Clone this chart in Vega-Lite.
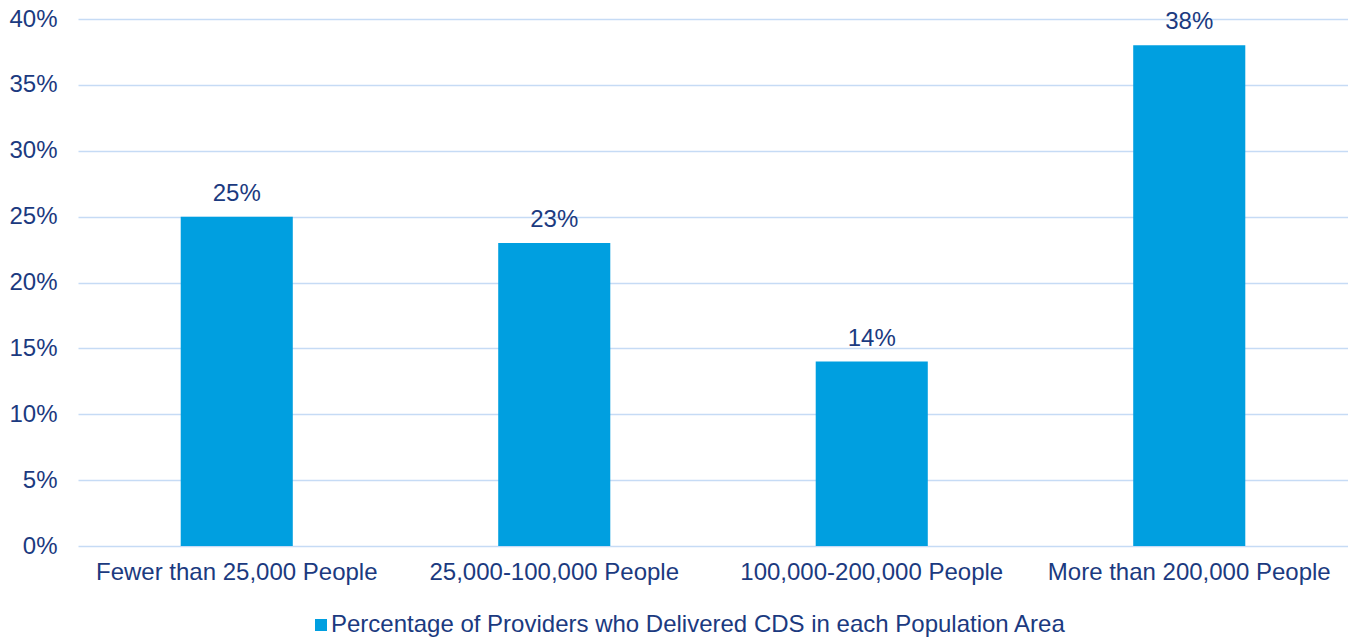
{
  "$schema": "https://vega.github.io/schema/vega-lite/v6.json",
  "autosize": "none",
  "width": 1270,
  "height": 527,
  "padding": {"left": 78, "top": 19, "right": 0, "bottom": 93},
  "background": "white",
  "config": {
    "view": {"stroke": null},
    "font": "Liberation Sans",
    "axis": {"labelFont": "Liberation Sans", "labelFontSize": 24, "labelColor": "#1B3A80"}
  },
  "data": {
    "values": [
      {"area": "Fewer than 25,000 People", "pct": 0.25, "series": "Percentage of Providers who Delivered CDS in each Population Area"},
      {"area": "25,000-100,000 People", "pct": 0.23, "series": "Percentage of Providers who Delivered CDS in each Population Area"},
      {"area": "100,000-200,000 People", "pct": 0.14, "series": "Percentage of Providers who Delivered CDS in each Population Area"},
      {"area": "More than 200,000 People", "pct": 0.38, "series": "Percentage of Providers who Delivered CDS in each Population Area"}
    ]
  },
  "encoding": {
    "x": {
      "field": "area", "type": "nominal", "sort": null,
      "scale": {"paddingInner": 0, "paddingOuter": 0},
      "axis": {"title": null, "labelAngle": 0, "domain": false, "ticks": false, "labelPadding": 14, "grid": false, "labelLimit": 1000}
    },
    "y": {
      "field": "pct", "type": "quantitative",
      "scale": {"domain": [0, 0.4], "nice": false},
      "axis": {"title": null, "format": ".0%", "values": [0, 0.05, 0.1, 0.15, 0.2, 0.25, 0.3, 0.35, 0.4], "domain": false, "ticks": false, "labelPadding": 21, "gridColor": "#C6DBF5", "gridWidth": 1.5}
    }
  },
  "layer": [
    {
      "mark": {"type": "bar", "width": {"band": 0.353}},
      "encoding": {
        "color": {
          "field": "series", "type": "nominal",
          "scale": {"range": ["#009FE0"]},
          "legend": {
            "title": null, "orient": "none", "legendX": 231, "legendY": 594,
            "symbolType": "square", "symbolSize": 144, "symbolStrokeWidth": 0,
            "labelFontSize": 24, "labelColor": "#1B3A80", "labelFont": "Liberation Sans",
            "labelOffset": -2, "labelLimit": 1000
          }
        }
      }
    },
    {
      "mark": {"type": "text", "fontSize": 24, "color": "#1B3A80", "baseline": "alphabetic", "dy": -16},
      "encoding": {"text": {"field": "pct", "type": "quantitative", "format": ".0%"}}
    }
  ]
}
